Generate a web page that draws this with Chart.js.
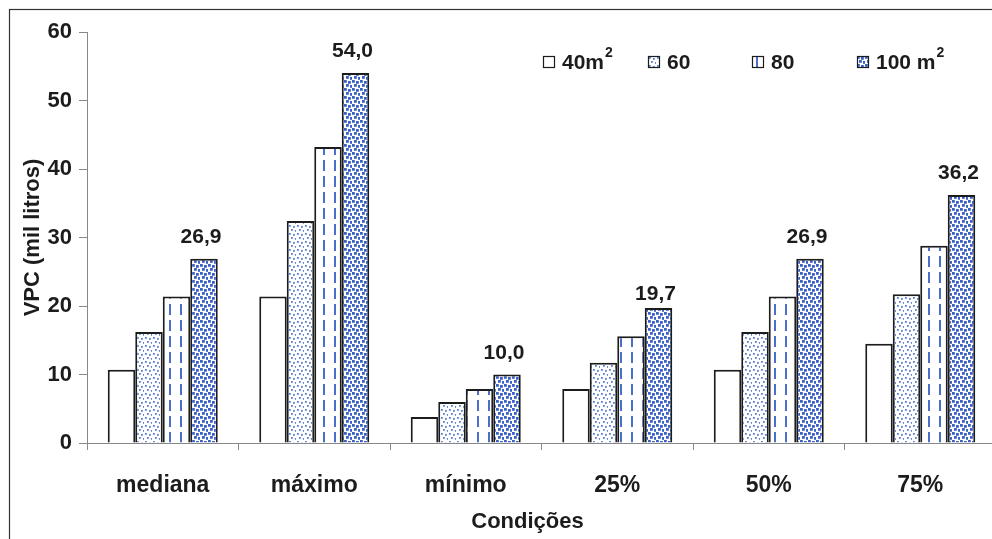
<!DOCTYPE html>
<html lang="pt">
<head>
  <meta charset="UTF-8">
  <title>VPC por condição</title>
  <script src="https://cdn.jsdelivr.net/npm/chart.js"></script>
  <style>
    body { margin: 0; overflow: hidden; background: #fff; }
  </style>
</head>
<body>
  <canvas id="chart" width="1000" height="539"></canvas>

  <script>
    // data
    const condicoes = ['mediana', 'máximo', 'mínimo', '25%', '50%', '75%'];
    const series = ['40m²', '60', '80', '100 m²'];
    const area40 = [10.7, 21.4, 3.8, 7.9, 10.7, 14.5];
    const area60 = [16.2, 32.4, 6.0, 11.7, 16.2, 21.7];
    const area80 = [21.4, 43.2, 7.9, 15.6, 21.4, 28.8];
    const area100 = [26.9, 54.0, 10.0, 19.7, 26.9, 36.2];
    const yTicks = [0, 10, 20, 30, 40, 50, 60];

    const FONT = 'Liberation Sans, Arial, sans-serif';
    const INK = '#1c1c1c';
    const BLUE = '#3b61c6';

    function makePattern(w, h, draw) {
      const c = document.createElement('canvas');
      c.width = w; c.height = h;
      const g = c.getContext('2d');
      g.fillStyle = '#fff';
      g.fillRect(0, 0, w, h);
      draw(g);
      return g.createPattern(c, 'repeat');
    }

    const patWhite = '#ffffff';
    const patDots = makePattern(8, 8, g => {
      g.fillStyle = '#5a7fd2';
      [[1, 1], [5, 2], [3, 5], [7, 6]].forEach(([x, y]) => g.fillRect(x, y, 1.8, 1.8));
    });
    const patDash = makePattern(11, 16, g => {
      g.fillStyle = '#4a6eca';
      g.fillRect(4, 0, 2, 11);
    });
    const patSquares = makePattern(8, 8, g => {
      g.fillStyle = BLUE;
      [[0, 0], [4, 1], [2, 4], [6, 5]].forEach(([x, y]) => g.fillRect(x, y, 2.8, 2.8));
    });
    const fills = [patWhite, patDots, patDash, patSquares];

    // white page, frame round the figure, x title
    const framePlugin = {
      id: 'frame',
      beforeDraw(chart) {
        const ctx = chart.ctx;
        ctx.save();
        ctx.fillStyle = '#fff';
        ctx.fillRect(0, 0, chart.width, chart.height);
        ctx.strokeStyle = '#333';
        ctx.lineWidth = 1.2;
        ctx.strokeRect(9.5, 9.5, 1200, 1200);
        ctx.restore();
      },
      afterDraw(chart) {
        const ctx = chart.ctx;
        const a = chart.chartArea;
        ctx.save();
        ctx.font = 'bold 22px ' + FONT;
        ctx.fillStyle = INK;
        ctx.textAlign = 'center';
        ctx.textBaseline = 'middle';
        ctx.fillText('Condições', (a.left + a.right) / 2 - 14, 522);
        ctx.restore();
      }
    };

    // value labels above the 100 m2 bars
    const labelNudge = [0, 0, 0, 8, 0, 0];
    const valueLabels = {
      id: 'valueLabels',
      afterDatasetsDraw(chart) {
        const ctx = chart.ctx;
        const meta = chart.getDatasetMeta(3);
        ctx.save();
        ctx.font = 'bold 21px ' + FONT;
        ctx.fillStyle = INK;
        ctx.textAlign = 'center';
        ctx.textBaseline = 'alphabetic';
        meta.data.forEach((bar, i) => {
          const txt = area100[i].toFixed(1).replace('.', ',');
          ctx.fillText(txt, bar.x - 3, bar.y - 16 + labelNudge[i]);
        });
        ctx.restore();
      }
    };

    // legend drawn inside the plot, top right
    const legendX = [543, 648, 752, 857];
    const insideLegend = {
      id: 'insideLegend',
      afterDatasetsDraw(chart) {
        const ctx = chart.ctx;
        const yc = 62;
        series.forEach((name, i) => {
          const x = legendX[i];
          ctx.save();
          ctx.translate(x, yc - 6);
          ctx.fillStyle = fills[i];
          ctx.fillRect(0, 0, 12, 12);
          ctx.strokeStyle = INK;
          ctx.lineWidth = 1.2;
          ctx.strokeRect(0.5, 0.5, 11, 11);
          ctx.restore();

          ctx.save();
          ctx.fillStyle = INK;
          ctx.textBaseline = 'middle';
          ctx.textAlign = 'left';
          ctx.font = 'bold 21px ' + FONT;
          let base = name, sup = '';
          if (name.endsWith('²')) { base = name.slice(0, -1); sup = '2'; }
          ctx.fillText(base, x + 19, yc + 1);
          if (sup) {
            const w = ctx.measureText(base).width;
            ctx.font = 'bold 14px ' + FONT;
            ctx.fillText(sup, x + 20 + w, yc - 9);
          }
          ctx.restore();
        });
      }
    };

    const datasets = [area40, area60, area80, area100].map((vals, i) => ({
      label: series[i],
      data: vals,
      backgroundColor: fills[i],
      borderColor: INK,
      borderWidth: 2,
      borderSkipped: 'bottom',
      categoryPercentage: 0.726,
      barPercentage: 1.0
    }));

    new Chart(document.getElementById('chart'), {
      type: 'bar',
      data: { labels: condicoes, datasets },
      options: {
        responsive: false,
        animation: false,
        devicePixelRatio: 1,
        layout: { padding: { top: 32, right: 4, left: 0, bottom: 0 } },
        plugins: {
          legend: { display: false },
          tooltip: { enabled: false }
        },
        scales: {
          x: {
            grid: { offset: true, drawOnChartArea: false, drawTicks: true, tickLength: 7, color: '#888' },
            border: { color: '#888', width: 1 },
            ticks: { color: INK, padding: 22, font: { family: FONT, size: 23, weight: 'bold' } },
            afterFit(scale) { scale.height = 96; }
          },
          y: {
            min: 0,
            max: 60,
            afterBuildTicks(scale) { scale.ticks = yTicks.map(v => ({ value: v })); },
            grid: { drawOnChartArea: false, drawTicks: true, tickLength: 8, color: '#888' },
            border: { color: '#888', width: 1 },
            ticks: { color: INK, padding: 7, font: { family: FONT, size: 22, weight: 'bold' } },
            title: {
              display: true,
              text: 'VPC (mil litros)',
              color: INK,
              padding: { top: 20, bottom: 0 },
              font: { family: FONT, size: 22, weight: 'bold' }
            },
            afterFit(scale) { scale.width = 87; }
          }
        }
      },
      plugins: [framePlugin, valueLabels, insideLegend]
    });
  </script>
</body>
</html>
